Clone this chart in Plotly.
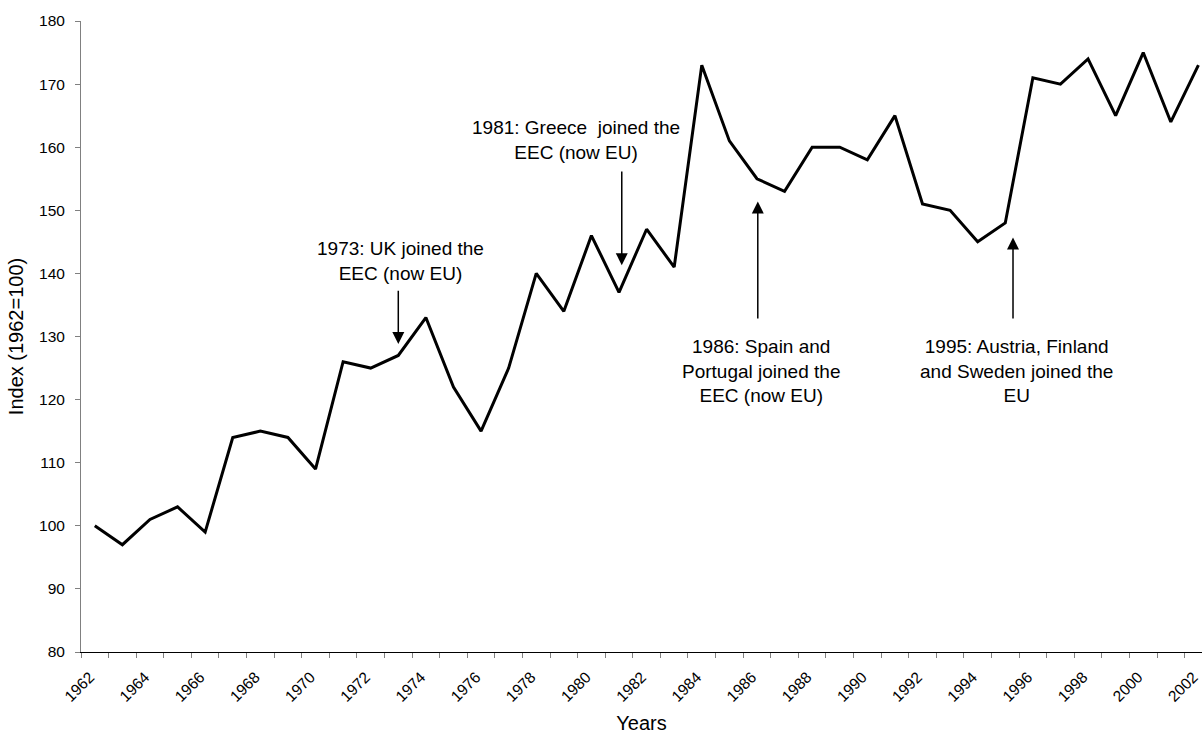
import plotly.graph_objects as go

years = list(range(1962, 2003))
index_values = [100, 97, 101, 103, 99, 114, 115, 114, 109, 126,
                125, 127, 133, 122, 115, 125, 140, 134, 146, 137,
                147, 141, 173, 161, 155, 153, 160, 160, 158, 165,
                151, 150, 145, 148, 171, 170, 174, 165, 175, 164, 173]
label_years = years[::2]
label_text = [str(y) for y in label_years]

FONT = "Arial, Liberation Sans, sans-serif"

fig = go.Figure()
fig.add_trace(go.Scatter(x=years, y=index_values, mode="lines",
                         line=dict(color="black", width=3),
                         showlegend=False, hoverinfo="x+y"))
# dummy trace for the secondary (tick-mark) axis
fig.add_trace(go.Scatter(x=[years[0]], y=[index_values[0]], xaxis="x2",
                         mode="markers", marker=dict(opacity=0),
                         showlegend=False, hoverinfo="skip"))

xr = [1961.5, 2002.13]

annotations = []
# arrows (text-free)
arrows = [
    (1973.0, 128.8, 137.5),
    (1981.1, 141.3, 156.4),
    (1986.03, 151.4, 132.6),
    (1995.28, 145.7, 132.6),
]
for x, yh, yt in arrows:
    annotations.append(dict(x=x, y=yh, ax=x, ay=yt, xref="x", yref="y",
                            axref="x", ayref="y", text="", showarrow=True,
                            arrowhead=2, arrowsize=1.6, arrowwidth=1.5,
                            arrowcolor="black"))
texts = [
    (1973.07, 142.0, "1973: UK joined the<br>EEC (now EU)"),
    (1979.45, 161.1, "1981: Greece\u00a0 joined the<br>EEC (now EU)"),
    (1986.15, 124.5, "1986: Spain and<br>Portugal joined the<br>EEC (now EU)"),
    (1995.42, 124.5, "1995: Austria, Finland<br>and Sweden joined the<br>EU"),
]
for x, y, t in texts:
    annotations.append(dict(x=x, y=y, xref="x", yref="y", text=t,
                            showarrow=False, align="center",
                            font=dict(family=FONT, size=19, color="black")))

fig.update_layout(
    width=1202, height=738,
    paper_bgcolor="white", plot_bgcolor="white",
    margin=dict(l=81, r=0, t=21, b=86, autoexpand=False),
    font=dict(family=FONT, color="black", size=15),
    xaxis=dict(range=xr, tickmode="array", tickvals=label_years,
               ticktext=label_text, tickangle=-45, ticks="",
               showline=True, linecolor="black", linewidth=1,
               showgrid=False, zeroline=False, automargin=False,
               tickfont=dict(size=15.5), ticklabeloverflow="allow",
               ticklabelshift=-5, ticklabelstandoff=9,
               title=dict(text="Years", font=dict(size=20), standoff=12)),
    xaxis2=dict(range=xr, overlaying="x", side="bottom", anchor="y",
                tickmode="array", tickvals=[y - 0.5 for y in years] + [years[-1] + 0.5],
                ticks="outside", ticklen=5, tickcolor="#808080", tickwidth=1,
                showticklabels=False, showgrid=False, zeroline=False,
                showline=False, automargin=False),
    yaxis=dict(range=[80, 180], dtick=10, tick0=80, ticks="outside",
               ticklen=5, tickcolor="#808080", showline=True,
               linecolor="#808080", linewidth=1, showgrid=False,
               zeroline=False, automargin=False, tickfont=dict(size=15.5),
               ticklabelstandoff=7,
               title=dict(text="Index (1962=100)", font=dict(size=20), standoff=10)),
    annotations=annotations,
)

fig.write_html("out.html",
               config={"displayModeBar": False},
               post_script="document.body.style.margin='0px';document.body.style.padding='0px';")
